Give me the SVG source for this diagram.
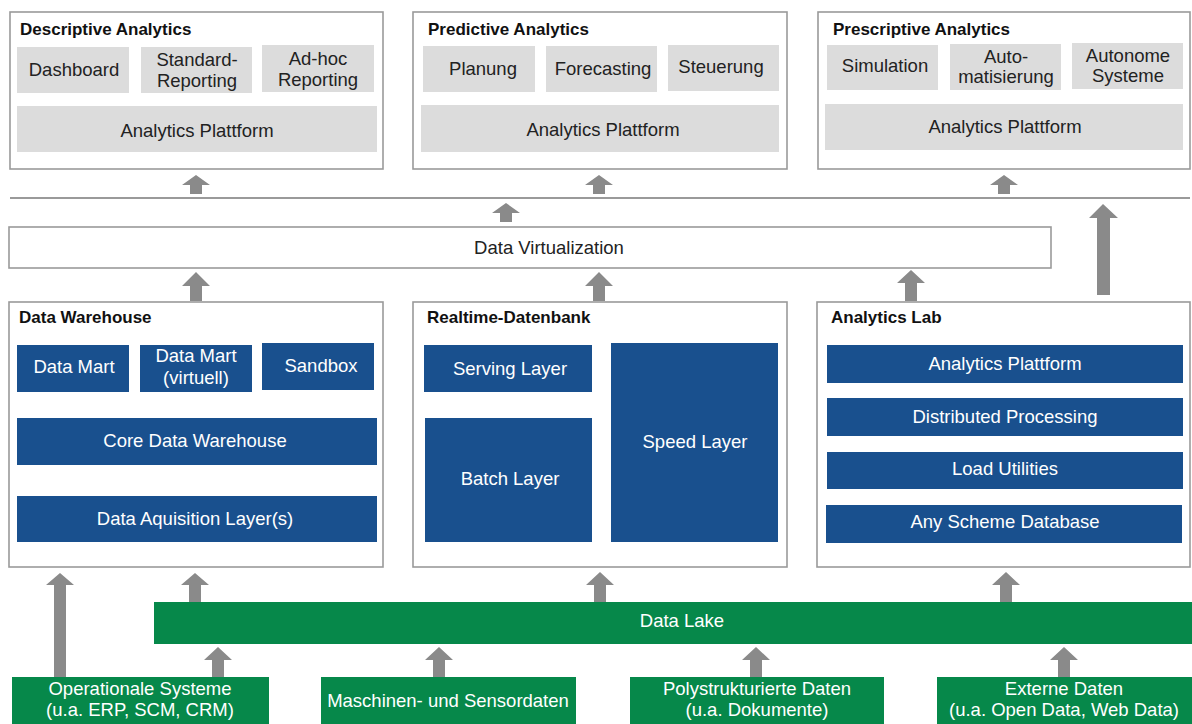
<svg xmlns="http://www.w3.org/2000/svg" width="1192" height="724" viewBox="0 0 1192 724">
<style>
.frame{fill:#fff;stroke:#9a9a9a;stroke-width:1.6}
.gray{fill:#dcdcdc}
.blue{fill:#19508e}
.green{fill:#06884a}
.t{font-family:"Liberation Sans",Arial,sans-serif;font-size:18.5px;text-anchor:middle}
.dk{fill:#222}
.wh{fill:#fff}
.title{font-family:"Liberation Sans",Arial,sans-serif;font-size:17px;font-weight:bold;fill:#111}
.arrow{fill:#8a8a8a}
.line{stroke:#9a9a9a;stroke-width:2}
</style>
<rect width="1192" height="724" fill="#fff"/>

<g id="descriptive">
<rect class="frame" x="10" y="12" width="373" height="157"/>
<text class="title" x="20" y="35">Descriptive Analytics</text>
<rect class="gray" x="17" y="47" width="112" height="46"/>
<rect class="gray" x="141" y="47" width="111" height="46"/>
<rect class="gray" x="262" y="45" width="112" height="47"/>
<rect class="gray" x="17" y="106" width="360" height="46"/>
<text class="t dk" x="74" y="76">Dashboard</text>
<text class="t dk" x="197" y="66">Standard-</text>
<text class="t dk" x="197" y="87">Reporting</text>
<text class="t dk" x="318" y="65">Ad-hoc</text>
<text class="t dk" x="318" y="86">Reporting</text>
<text class="t dk" x="197" y="137">Analytics Plattform</text>
</g>

<g id="predictive">
<rect class="frame" x="413" y="12" width="374" height="157"/>
<text class="title" x="428" y="35">Predictive Analytics</text>
<rect class="gray" x="423" y="46" width="112" height="46"/>
<rect class="gray" x="546" y="46" width="111" height="46"/>
<rect class="gray" x="668" y="45" width="111" height="46"/>
<rect class="gray" x="421" y="105" width="358" height="47"/>
<text class="t dk" x="483" y="75">Planung</text>
<text class="t dk" x="603" y="75">Forecasting</text>
<text class="t dk" x="721" y="73">Steuerung</text>
<text class="t dk" x="603" y="136">Analytics Plattform</text>
</g>

<g id="prescriptive">
<rect class="frame" x="818" y="12" width="372" height="157"/>
<text class="title" x="833" y="35">Prescriptive Analytics</text>
<rect class="gray" x="827" y="45" width="111" height="45"/>
<rect class="gray" x="950" y="44" width="111" height="46"/>
<rect class="gray" x="1072" y="43" width="111" height="46"/>
<rect class="gray" x="825" y="104" width="358" height="46"/>
<text class="t dk" x="885" y="72">Simulation</text>
<text class="t dk" x="1006" y="63">Auto-</text>
<text class="t dk" x="1006" y="83">matisierung</text>
<text class="t dk" x="1128" y="62">Autonome</text>
<text class="t dk" x="1128" y="82">Systeme</text>
<text class="t dk" x="1005" y="133">Analytics Plattform</text>
</g>

<g id="data-virtualization">
<rect class="frame" x="9" y="227" width="1042" height="41"/>
<text class="t dk" x="549" y="254">Data Virtualization</text>
</g>

<g id="data-warehouse">
<rect class="frame" x="9" y="302" width="374" height="265"/>
<text class="title" x="19" y="323">Data Warehouse</text>
<rect class="blue" x="17" y="345" width="112" height="47"/>
<rect class="blue" x="140" y="345" width="112" height="47"/>
<rect class="blue" x="262" y="343" width="112" height="47"/>
<rect class="blue" x="17" y="418" width="360" height="47"/>
<rect class="blue" x="17" y="496" width="360" height="46"/>
<text class="t wh" x="74" y="373">Data Mart</text>
<text class="t wh" x="196" y="362">Data Mart</text>
<text class="t wh" x="196" y="384">(virtuell)</text>
<text class="t wh" x="321" y="372">Sandbox</text>
<text class="t wh" x="195" y="447">Core Data Warehouse</text>
<text class="t wh" x="195" y="525">Data Aquisition Layer(s)</text>
</g>

<g id="realtime-datenbank">
<rect class="frame" x="413" y="302" width="374" height="265"/>
<text class="title" x="427" y="323">Realtime-Datenbank</text>
<rect class="blue" x="424" y="345" width="168" height="47"/>
<rect class="blue" x="425" y="418" width="167" height="124"/>
<rect class="blue" x="611" y="343" width="167" height="199"/>
<text class="t wh" x="510" y="375">Serving Layer</text>
<text class="t wh" x="510" y="485">Batch Layer</text>
<text class="t wh" x="695" y="448">Speed Layer</text>
</g>

<g id="analytics-lab">
<rect class="frame" x="817" y="302" width="373" height="265"/>
<text class="title" x="831" y="323">Analytics Lab</text>
<rect class="blue" x="827" y="345" width="356" height="38"/>
<rect class="blue" x="827" y="398" width="356" height="38"/>
<rect class="blue" x="827" y="452" width="356" height="37"/>
<rect class="blue" x="826" y="505" width="356" height="38"/>
<text class="t wh" x="1005" y="370">Analytics Plattform</text>
<text class="t wh" x="1005" y="423">Distributed Processing</text>
<text class="t wh" x="1005" y="475">Load Utilities</text>
<text class="t wh" x="1005" y="528">Any Scheme Database</text>
</g>

<g id="data-lake">
<rect class="green" x="154" y="602" width="1038" height="42"/>
<text class="t wh" x="682" y="627">Data Lake</text>
</g>

<g id="operationale-systeme">
<rect class="green" x="12" y="677" width="257" height="50"/>
<text class="t wh" x="140" y="695">Operationale Systeme</text>
<text class="t wh" x="140" y="716">(u.a. ERP, SCM, CRM)</text>
</g>

<g id="maschinen">
<rect class="green" x="321" y="677" width="255" height="50"/>
<text class="t wh" x="448" y="707">Maschinen- und Sensordaten</text>
</g>

<g id="polystrukturiert">
<rect class="green" x="630" y="677" width="254" height="50"/>
<text class="t wh" x="757" y="695">Polystrukturierte Daten</text>
<text class="t wh" x="757" y="716">(u.a. Dokumente)</text>
</g>

<g id="externe-daten">
<rect class="green" x="937" y="677" width="255" height="50"/>
<text class="t wh" x="1064" y="695">Externe Daten</text>
<text class="t wh" x="1064" y="716">(u.a. Open Data, Web Data)</text>
</g>

<g id="connectors">
<line class="line" x1="10" y1="198" x2="1190" y2="198"/>
<path class="arrow" d="M196 175 L210 185 L202 185 L202 194 L190 194 L190 185 L182 185 Z"/>
<path class="arrow" d="M599 175 L613 185 L605 185 L605 194 L593 194 L593 185 L585 185 Z"/>
<path class="arrow" d="M1004 175 L1018 185 L1010 185 L1010 194 L998 194 L998 185 L990 185 Z"/>
<path class="arrow" d="M506 203 L520 213 L512 213 L512 222 L500 222 L500 213 L492 213 Z"/>
<path class="arrow" d="M196 272 L210 286 L202 286 L202 301 L190 301 L190 286 L182 286 Z"/>
<path class="arrow" d="M599 272 L613 286 L605 286 L605 301 L593 301 L593 286 L585 286 Z"/>
<path class="arrow" d="M911 270 L925 283 L917 283 L917 301 L905 301 L905 283 L897 283 Z"/>
<path class="arrow" d="M1103 204 L1118 218 L1110 218 L1110 295 L1097 295 L1097 218 L1089 218 Z"/>
<path class="arrow" d="M60 573 L74 585 L66 585 L66 677 L54 677 L54 585 L46 585 Z"/>
<path class="arrow" d="M195 573 L209 585 L201 585 L201 602 L189 602 L189 585 L181 585 Z"/>
<path class="arrow" d="M600 572 L614 585 L606 585 L606 602 L594 602 L594 585 L586 585 Z"/>
<path class="arrow" d="M1006 572 L1020 585 L1012 585 L1012 602 L1000 602 L1000 585 L992 585 Z"/>
<path class="arrow" d="M218 647 L232 660 L224 660 L224 677 L212 677 L212 660 L204 660 Z"/>
<path class="arrow" d="M439 647 L453 660 L445 660 L445 677 L433 677 L433 660 L425 660 Z"/>
<path class="arrow" d="M756 647 L770 660 L762 660 L762 677 L750 677 L750 660 L742 660 Z"/>
<path class="arrow" d="M1064 647 L1078 660 L1070 660 L1070 677 L1058 677 L1058 660 L1050 660 Z"/>
</g>
</svg>
